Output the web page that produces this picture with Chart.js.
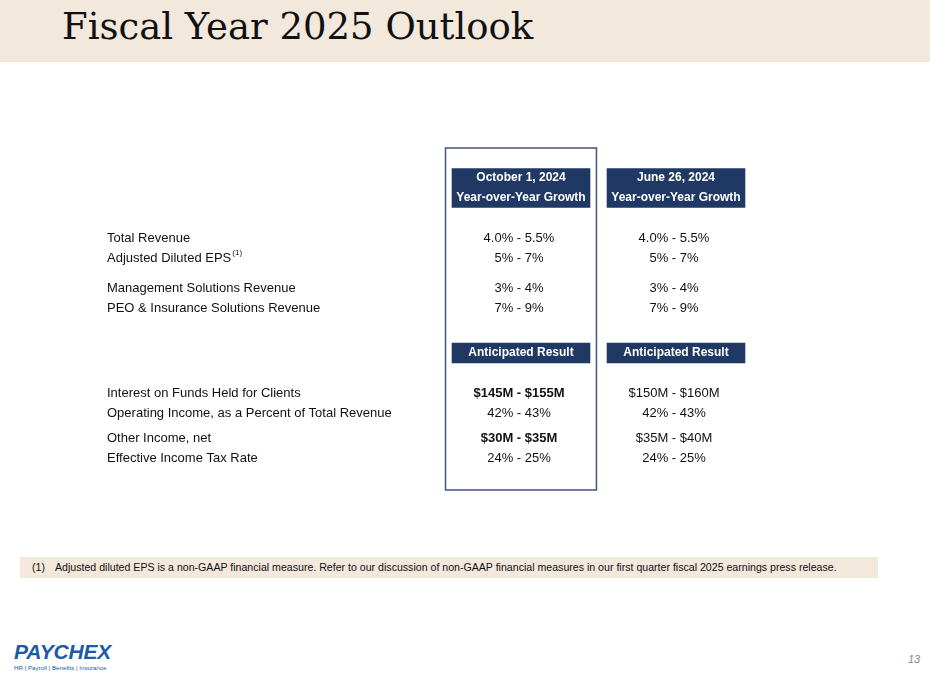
<!DOCTYPE html>
<html>
<head>
<meta charset="utf-8">
<title>Fiscal Year 2025 Outlook</title>
<script src="https://cdn.jsdelivr.net/npm/chart.js@4.4.1/dist/chart.umd.min.js"></script>
<style>
  html, body { margin: 0; padding: 0; background: #fff; }
  #slide { position: relative; width: 930px; height: 676px; overflow: hidden; font-family: "Liberation Sans", Arial, sans-serif; }
  #titleBar { position: absolute; left: 0; top: 0; width: 930px; height: 62px; background: #f2e8dc; }
  #title { position: absolute; left: 62px; top: 5px; font-family: "DejaVu Serif", Georgia, serif; font-size: 37px; color: #111; white-space: nowrap; }
  #note { position: absolute; left: 20px; top: 557px; width: 858px; height: 21px; background: #f2e8dc; font-size: 10.6px; color: #111; line-height: 21px; white-space: nowrap; }
  #note .num { position: absolute; left: 12px; }
  #note .txt { position: absolute; left: 35px; }
  #logo { position: absolute; left: 14px; top: 640px; }
  #logo .word { font-size: 21px; font-weight: bold; font-style: italic; color: #1d5aa6; letter-spacing: -0.2px; line-height: 24px; }
  #logo .tag { font-size: 6.2px; color: #1d5aa6; line-height: 8px; margin-top: 0; }
  #page { position: absolute; left: 908px; top: 653px; font-size: 11px; font-style: italic; color: #888; }
  #eventTable { position: absolute; left: 0; top: 0; }
</style>
</head>
<body>
<div id="slide">
  <div id="titleBar"><div id="title">Fiscal Year 2025 Outlook</div></div>
  <div id="note"><span class="num">(1)</span><span class="txt">Adjusted diluted EPS is a non-GAAP financial measure. Refer to our discussion of non-GAAP financial measures in our first quarter fiscal 2025 earnings press release.</span></div>
  <div id="logo"><div class="word">PAYCHEX</div><div class="tag">HR | Payroll | Benefits | Insurance</div></div>
  <div id="page">13</div>
  <canvas id="eventTable" width="930" height="676"></canvas>
</div>
<script>
// Table data
const metrics = [
  "Total Revenue",
  "Adjusted Diluted EPS",
  "Management Solutions Revenue",
  "PEO & Insurance Solutions Revenue",
  "Interest on Funds Held for Clients",
  "Operating Income, as a Percent of Total Revenue",
  "Other Income, net",
  "Effective Income Tax Rate",
];
const columnDates = ["October 1, 2024", "June 26, 2024"];
const sectionHeaders = ["Year-over-Year Growth", "Anticipated Result"];
const outlookOct2024 = ["4.0% - 5.5%", "5% - 7%", "3% - 4%", "7% - 9%", "$145M - $155M", "42% - 43%", "$30M - $35M", "24% - 25%"];
const outlookJun2024 = ["4.0% - 5.5%", "5% - 7%", "3% - 4%", "7% - 9%", "$150M - $160M", "42% - 43%", "$35M - $40M", "24% - 25%"];
const updatedOct2024 = [false, false, false, false, true, false, true, false]; // bold in the new column
const footnoteMetric = 1; // "Adjusted Diluted EPS" carries note (1)

// Layout: rows sit on 5px slots of a category axis
const SLOT_COUNT = 69;
const metricSlots = [18, 22, 28, 32, 49, 53, 58, 62];
const dateSlot = 6;
const sectionSlots = [10, 41];
const yoyBoxSlot = 8;
const NAVY = "#203864";
const FONT = '"Liberation Sans", Arial, sans-serif';

const rowLabels = Array.from({ length: SLOT_COUNT }, () => "");
metricSlots.forEach((s, i) => { rowLabels[s] = metrics[i]; });

const columns = [outlookOct2024, outlookJun2024];

// Navy header cells as floating bars
const headerBar = (col, slot, thickness) => {
  const data = Array(SLOT_COUNT).fill(null);
  data[slot] = [col - 0.445, col + 0.445];
  return { data, backgroundColor: NAVY, barThickness: thickness, grouped: false, borderSkipped: false, borderWidth: 0 };
};

const datasets = [];
columns.forEach((_, col) => {
  datasets.push(headerBar(col, yoyBoxSlot, 39));
  datasets.push(headerBar(col, sectionSlots[1], 20));
});

// Draws the text of every cell at the scale positions
const tableCells = {
  id: "tableCells",
  afterDatasetsDraw(chart) {
    const { ctx, scales: { x, y }, chartArea } = chart;
    ctx.save();

    // box round the current outlook column
    ctx.strokeStyle = "#45557a";
    ctx.lineWidth = 1.5;
    const left = x.getPixelForValue(-0.487);
    const right = x.getPixelForValue(0.487);
    ctx.strokeRect(left, chartArea.top + 2.5, right - left, chartArea.bottom - chartArea.top - 3);

    ctx.textAlign = "center";
    ctx.textBaseline = "middle";

    columns.forEach((values, col) => {
      const cx = x.getPixelForValue(col);
      ctx.fillStyle = "#fff";
      ctx.font = "bold 12px " + FONT;
      ctx.fillText(columnDates[col], cx, y.getPixelForValue(dateSlot));
      sectionHeaders.forEach((h, i) => ctx.fillText(h, cx, y.getPixelForValue(sectionSlots[i])));

      ctx.fillStyle = "#111";
      values.forEach((v, i) => {
        const bold = col === 0 && updatedOct2024[i];
        ctx.font = (bold ? "bold " : "") + "13px " + FONT;
        ctx.fillText(v, cx - 2, y.getPixelForValue(metricSlots[i]));
      });
    });

    // superscript footnote mark
    ctx.textAlign = "left";
    ctx.font = "13px " + FONT;
    const w = ctx.measureText(metrics[footnoteMetric]).width;
    ctx.font = "8px " + FONT;
    ctx.fillText("(1)", y.left + w + 1, y.getPixelForValue(metricSlots[footnoteMetric]) - 5);
    ctx.restore();
  },
};

const ctx = document.getElementById("eventTable").getContext("2d");
new Chart(ctx, {
  type: "bar",
  data: { labels: rowLabels, datasets },
  plugins: [tableCells],
  options: {
    indexAxis: "y",
    responsive: false,
    animation: false,
    layout: { padding: { left: 107, right: 176.5, top: 145.5, bottom: 185.5 } },
    scales: {
      x: { type: "linear", min: -0.5, max: 1.5, display: false },
      y: {
        type: "category",
        grid: { display: false },
        border: { display: false },
        ticks: {
          autoSkip: false,
          crossAlign: "far",
          padding: 0,
          color: "#111",
          font: { family: FONT, size: 13 },
        },
        afterFit: (scale) => { scale.width = 336.5; },
      },
    },
    plugins: {
      legend: { display: false },
      tooltip: { enabled: false },
    },
  },
});
</script>
</body>
</html>
